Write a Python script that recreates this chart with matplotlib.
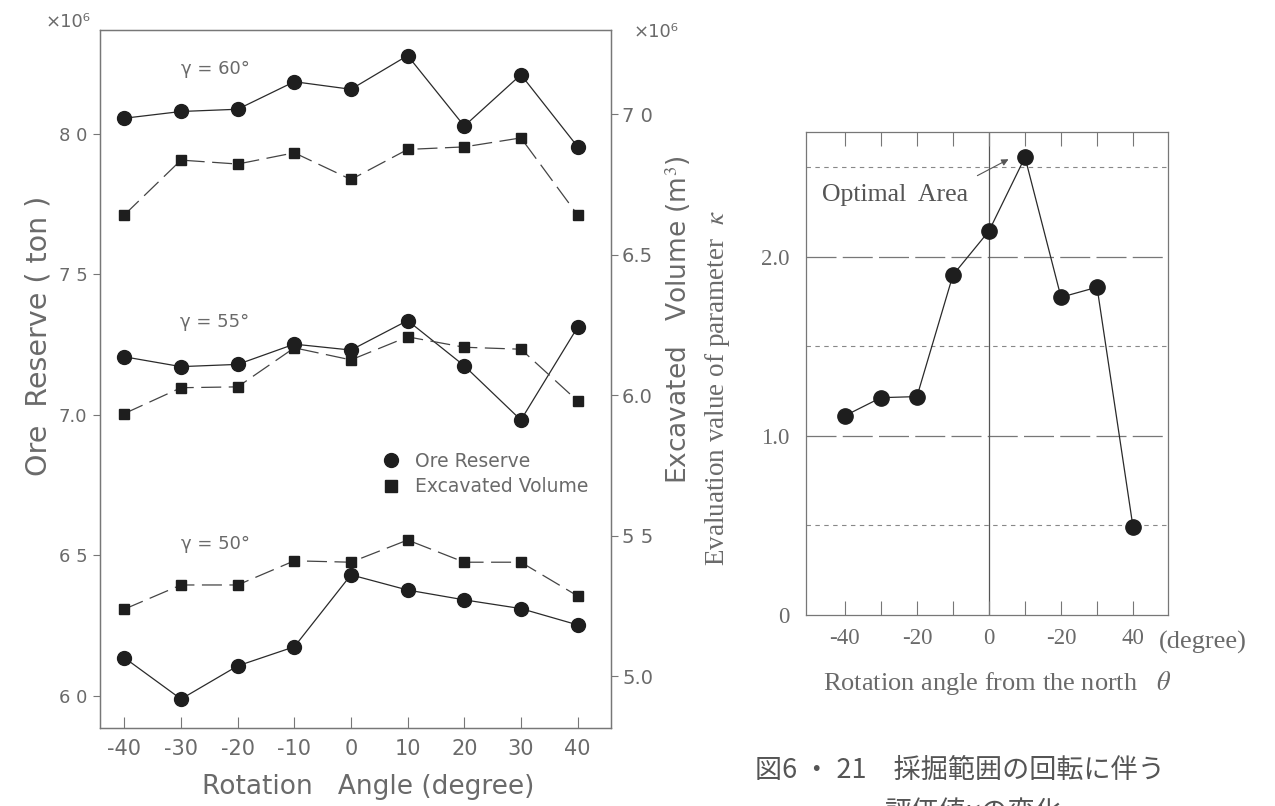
import matplotlib
matplotlib.use("Agg")
import matplotlib.pyplot as plt
from matplotlib.lines import Line2D

# --- data ---
angles = [-40, -30, -20, -10, 0, 10, 20, 30, 40]

ore_60 = [8.056, 8.080, 8.088, 8.186, 8.159, 8.279, 8.028, 8.211, 7.955]
vol_60 = [6.641, 6.836, 6.822, 6.862, 6.767, 6.874, 6.883, 6.915, 6.641]
ore_55 = [7.207, 7.172, 7.180, 7.252, 7.231, 7.336, 7.175, 6.982, 7.312]
vol_55 = [5.934, 6.026, 6.029, 6.168, 6.125, 6.207, 6.170, 6.163, 5.979]
ore_50 = [6.136, 5.989, 6.107, 6.175, 6.431, 6.377, 6.342, 6.311, 6.253]
vol_50 = [5.238, 5.324, 5.324, 5.410, 5.405, 5.484, 5.405, 5.405, 5.285]
gamma_labels = ["60", "55", "50"]
gamma_label_y = [8.23, 7.33, 6.54]

left_ticks = [6.0, 6.5, 7.0, 7.5, 8.0]
right_ticks = [5.0, 5.5, 6.0, 6.5, 7.0]

kappa = [1.113, 1.214, 1.220, 1.899, 2.145, 2.557, 1.775, 1.831, 0.490]
kappa_xticks = [-40, -30, -20, -10, 0, 10, 20, 30, 40]
kappa_xlabels = ["-40", "", "-20", "", "0", "", "-20", "", "40"]   # as printed
kappa_yticks = [0, 1.0, 2.0]
kappa_ylabels = ["0", "1.0", "2.0"]

W, H = 1275, 806
INK = "#2a2a2a"
TXT = "#6a6a6a"
SPINE = "#777777"
SERIF = "Liberation Serif"
CJK = ["Noto Sans CJK JP", "DejaVu Sans"]


def px(x0, y0, x1, y1):
    # pixel box -> figure fraction rect
    return [x0 / W, 1 - y1 / H, (x1 - x0) / W, (y1 - y0) / H]


plt.rcParams["mathtext.fontset"] = "stix"
fig = plt.figure(figsize=(W / 100, H / 100), dpi=100)
fig.patch.set_facecolor("white")

# ---------------- left panel ----------------
ax = fig.add_axes(px(100, 30, 611, 728))
ax2 = ax.twinx()
ax.set_xlim(-44.3, 45.9)
ax.set_ylim(5.886, 8.370)
ax2.set_ylim(4.815, 7.299)

ore_sets = [ore_60, ore_55, ore_50]
vol_sets = [vol_60, vol_55, vol_50]
for ore, vol in zip(ore_sets, vol_sets):
    ax.plot(angles, ore, color=INK, lw=0.9, marker="o", ms=10,
            mfc="#1e1e1e", mec="#1e1e1e", zorder=3)
    ax2.plot(angles, vol, color="#444444", lw=0.9, dashes=(16, 6),
             marker="s", ms=7, mfc="#1e1e1e", mec="#1e1e1e", zorder=3)

for g, y in zip(gamma_labels, gamma_label_y):
    ax.text(-24, y, "γ = " + g + "°", fontsize=13, color=TXT,
            ha="center", va="center")

for a in (ax, ax2):
    for s in a.spines.values():
        s.set_color(SPINE)
        s.set_linewidth(0.9)

ax.set_xticks(angles)
ax.set_xticklabels([str(a) for a in angles])
ax.tick_params(axis="x", direction="in", length=8, pad=8, labelsize=15,
               colors=SPINE, labelcolor=TXT)
ax.set_yticks(left_ticks)
ax.set_yticklabels(["6 0", "6 5", "7.0", "7 5", "8 0"])
ax.tick_params(axis="y", direction="out", length=5, pad=4, labelsize=13,
               colors=SPINE, labelcolor=TXT)
ax2.set_yticks(right_ticks)
ax2.set_yticklabels(["5.0", "5 5", "6.0", "6.5", "7 0"])
ax2.tick_params(axis="y", direction="out", length=5, pad=3, labelsize=14,
                colors=SPINE, labelcolor=TXT)

fig.text(39 / W, 1 - 336 / H, "Ore  Reserve ( ton )", rotation=90,
         fontsize=20.5, color=TXT, ha="center", va="center")
fig.text(678 / W, 1 - 320 / H, "Excavated   Volume (m$^3$)", rotation=90,
         fontsize=19, color=TXT, ha="center", va="center")
fig.text(368 / W, 1 - 787 / H, "Rotation   Angle (degree)", fontsize=19,
         color=TXT, ha="center", va="center")
fig.text(68 / W, 1 - 22 / H, "×10⁶", fontsize=13, color=TXT,
         ha="center", va="center")
fig.text(656 / W, 1 - 32 / H, "×10⁶", fontsize=13, color=TXT,
         ha="center", va="center")

handles = [
    Line2D([], [], ls="none", marker="o", ms=10, mfc="#1e1e1e", mec="#1e1e1e"),
    Line2D([], [], ls="none", marker="s", ms=8, mfc="#1e1e1e", mec="#1e1e1e"),
]
leg = ax.legend(handles, ["Ore Reserve", "Excavated Volume"], loc="center left",
                bbox_to_anchor=(372 / W, 1 - 474 / H), bbox_transform=fig.transFigure,
                frameon=False, fontsize=13.5, handlelength=1.0, handletextpad=0.8,
                labelspacing=0.35, borderpad=0)
for t in leg.get_texts():
    t.set_color(TXT)

# ---------------- right panel ----------------
bx = fig.add_axes(px(806, 132, 1168, 615))
bx.set_xlim(-50.8, 49.7)
bx.set_ylim(0, 2.698)

for y in (2.5, 1.5, 0.5):
    bx.axhline(y, color="#888888", lw=0.8, dashes=(4, 4), zorder=1)
for y in (2.0, 1.0):
    bx.axhline(y, color="#777777", lw=0.9, dashes=(24, 5), zorder=1)
bx.axvline(0, color="#555555", lw=0.9, zorder=1)

bx.plot(angles, kappa, color=INK, lw=0.9, marker="o", ms=11,
        mfc="#1e1e1e", mec="#1e1e1e", zorder=3)

bx.text(-46.4, 2.346, "Optimal  Area", fontsize=18.5, color="#555555",
        family=SERIF, ha="left", va="center")
bx.annotate("", xy=(6.1, 2.553), xytext=(-3.9, 2.447),
            arrowprops=dict(arrowstyle="-|>", color="#555555", lw=0.8,
                            mutation_scale=10))

for s in bx.spines.values():
    s.set_color(SPINE)
    s.set_linewidth(0.9)

bx.set_xticks(kappa_xticks)
bx.set_xticklabels(kappa_xlabels, family=SERIF)
bx.tick_params(axis="x", direction="in", top=True, length=10, pad=9,
               labelsize=16.5, colors=SPINE, labelcolor=TXT)
bx.set_yticks(kappa_yticks)
bx.set_yticklabels(kappa_ylabels, family=SERIF)
bx.tick_params(axis="y", length=0, pad=12, labelsize=16.5, labelcolor=TXT)

fig.text(1203 / W, 1 - 642 / H, "(degree)", fontsize=19, color=TXT,
         family=SERIF, ha="center", va="center")
fig.text(717 / W, 1 - 388 / H, "Evaluation value of parameter  $\\kappa$",
         rotation=90, fontsize=19.5, color=TXT, family=SERIF,
         ha="center", va="center")
fig.text(997 / W, 1 - 683 / H, "Rotation angle from the north   $\\theta$",
         fontsize=19, color=TXT, family=SERIF, ha="center", va="center")

# caption (second line cut off at the bottom edge, as in the scan)
fig.text(960 / W, 1 - 770 / H, "図6 ・ 21　採掘範囲の回転に伴う", fontsize=19.5,
         color="#555555", family=CJK, ha="center", va="center")
fig.text(885 / W, 1 - 799 / H, "評価値κの変化", fontsize=19.5,
         color="#555555", family=CJK, ha="left", va="top")

fig.savefig("out.png", dpi=100, facecolor="white")
